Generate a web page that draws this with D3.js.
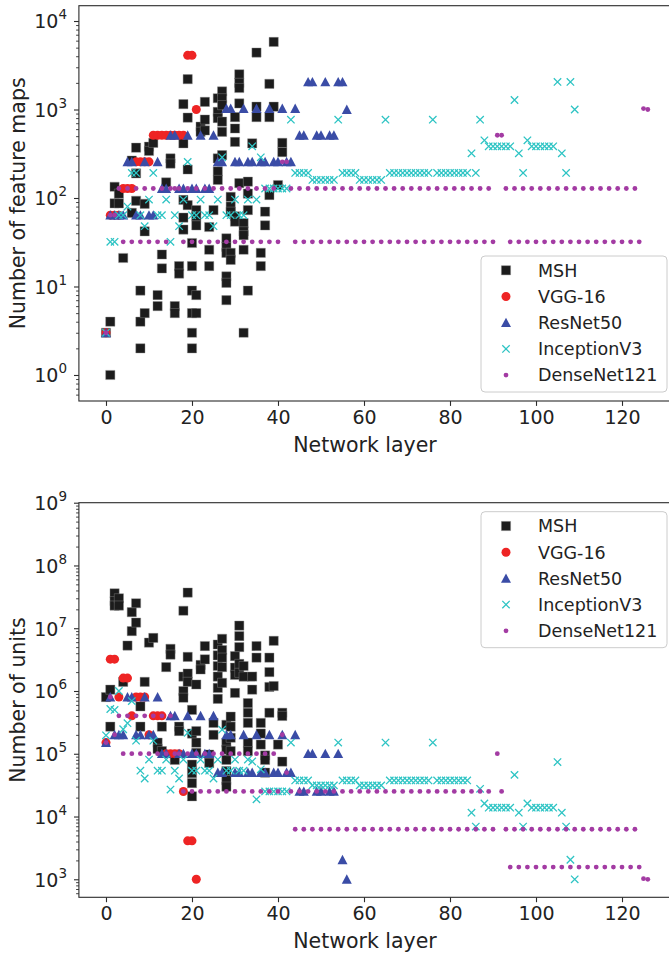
<!DOCTYPE html>
<html><head><meta charset="utf-8">
<script src="https://cdn.jsdelivr.net/npm/d3@7"></script>
<style>
body{margin:0;background:#fff}
svg{display:block}
text{font-family:"DejaVu Sans",sans-serif;fill:#222}
</style>
</head><body>
<svg id="chart" width="669" height="954"></svg>
<script>
// ---------------- DATA ----------------
const legendNames = ["MSH","VGG-16","ResNet50","InceptionV3","DenseNet121"];
const xTicks = [0,20,40,60,80,100,120];
const yTicksTop = [1,10,100,1000,10000];
const yTicksBottom = [1e3,1e4,1e5,1e6,1e7,1e8,1e9];

// MSH (layer index, number of feature maps)
const mshTopLayer = [0,1,1,2,2,3,3,4,6,6,7,7,7,8,8,8,9,9,9,10,10,11,12,12,13,13,14,15,15,16,16,17,17,
 18,18,18,18,18,19,19,19,19,20,20,20,20,20,20,21,21,21,21,21,22,22,23,23,23,24,24,24,25,
 26,26,26,26,26,26,27,27,27,27,27,27,28,28,28,28,28,28,29,29,29,29,29,30,30,30,30,30,
 31,31,31,31,31,32,32,32,32,32,33,33,33,33,34,35,35,35,36,36,37,37,38,38,38,39,39,40,41,41];
const mshTopMaps = [3,1,4,134,87,112,87,21,265,68,370,190,93,9,4,2,86,42,5,380,340,420,8,6,23,16,150,280,245,6,5,17,14,
 1150,415,95,60,44,2200,810,210,83,31,17,9,5,3,2,73,62,49,8,5,640,560,1220,770,580,47,26,17,73,
 1340,940,800,280,200,160,1600,1340,1120,730,560,305,35,28,24,13,11,7,103,80,70,24,20,820,610,430,62,54,
 2500,2000,1750,1170,147,52,42,38,26,3,153,112,73,9,415,4400,1075,820,24,17,70,49,1950,820,108,5800,1075,140,420,330];

// MSH (layer index, number of units)
const mshBotLayer = [0,1,1,2,2,2,3,3,4,5,6,6,7,7,8,8,9,10,11,12,12,13,13,14,15,15,16,17,17,
 18,18,18,18,19,19,19,19,20,20,20,20,20,20,21,21,21,21,22,22,23,23,24,24,25,25,
 26,26,26,26,26,26,27,27,27,27,27,28,28,28,28,28,28,28,29,29,29,29,30,30,30,30,
 31,31,31,31,31,32,32,33,33,33,33,33,34,34,35,35,36,36,36,37,37,37,38,38,38,38,39,39,40,41,41,41];
const mshBotUnits = [8.0e5,1.05e6,2.7e5,3.6e7,2.7e7,2.3e7,3.0e7,2.3e7,1.4e6,5.3e6,1.8e7,9.0e6,2.5e7,1.23e7,5.7e5,2.7e5,1.4e6,5.9e6,7.0e6,1.5e5,1.2e5,2.7e5,1.1e5,2.4e6,4.7e6,3.8e6,8.0e4,2.7e5,2.3e5,
 1.9e7,1.7e6,1.0e6,7.8e5,3.7e7,3.5e6,1.9e6,1.4e6,5.0e5,2.1e5,6.7e4,4.9e4,3.4e4,2.1e4,1.27e6,2.3e5,1.5e5,1.03e5,2.6e6,2.2e6,5.2e6,3.2e6,9.7e4,7.1e4,3.1e5,2.0e5,
 5.5e6,3.7e6,2.5e6,1.7e6,1.12e6,7.5e5,6.8e6,4.5e6,3.4e6,2.4e6,1.35e6,2.9e5,1.5e5,1.16e5,8.0e4,5.3e4,3.8e4,3.0e4,3.9e5,2.7e5,1.8e5,1.1e5,3.6e6,2.35e6,1.8e6,9.3e5,
 1.1e7,7.5e6,5.0e6,2.7e6,1.95e6,2.5e6,1.7e6,6.4e5,4.5e5,3.1e5,1.5e5,1.1e5,1.7e6,1.05e6,5.2e6,3.4e6,3.1e5,2.1e5,1.4e5,9.4e4,8.0e4,5.0e4,3.4e6,2.0e6,1.16e6,4.5e5,6.3e6,1.2e6,1.4e5,4.5e5,4.0e5,7.5e4];

// VGG-16, per layer
const vggMaps = [3,64,64,64,128,128,128,256,256,256,256,512,512,512,512,512,512,512,512,4096,4096,1000];
const vggUnits = [150528,3211264,3211264,802816,1605632,1605632,401408,802816,802816,802816,200704,401408,401408,401408,100352,100352,100352,100352,25088,4096,4096,1000];

// ResNet50, per layer
const resnetMaps = [3,64,64,
 64,64,256,256,64,64,256,64,64,256,
 128,128,512,512,128,128,512,128,128,512,128,128,512,
 256,256,1024,1024,256,256,1024,256,256,1024,256,256,1024,256,256,1024,256,256,1024,
 512,512,2048,2048,512,512,2048,512,512,2048,
 2048,1000];
const resnetUnits = [150528,802816,200704,
 200704,200704,802816,802816,200704,200704,802816,200704,200704,802816,
 100352,100352,401408,401408,100352,100352,401408,100352,100352,401408,100352,100352,401408,
 50176,50176,200704,200704,50176,50176,200704,50176,50176,200704,50176,50176,200704,50176,50176,200704,50176,50176,200704,
 25088,25088,100352,100352,25088,25088,100352,25088,25088,100352,
 2048,1000];

// InceptionV3, per layer
const inceptionMaps = [3,32,32,64,64,80,192,192,
 64,48,96,192,64,64,96,32,
 64,48,96,256,64,64,96,64,
 64,48,96,288,64,64,96,64,
 64,96,384,96,288,
 128,128,128,128,128,128,768,192,192,192,192,
 160,160,160,160,160,160,768,192,192,192,192,
 160,160,160,160,160,160,768,192,192,192,192,
 192,192,192,192,192,192,768,192,192,192,192,
 192,192,192,192,320,192,768,
 448,384,384,384,384,384,384,1280,320,192,
 448,384,384,384,384,384,384,2048,320,192,
 2048,1000];
const inceptionUnits = [196608,516128,500000,1000000,246016,307520,691200,161472,
 53824,40368,80736,161472,53824,53824,80736,26912,
 53824,40368,80736,215296,53824,53824,80736,53824,
 53824,40368,80736,242208,53824,53824,80736,53824,
 53824,80736,75264,18816,56448,
 25088,25088,25088,25088,25088,25088,150528,37632,37632,37632,37632,
 31360,31360,31360,31360,31360,31360,150528,37632,37632,37632,37632,
 31360,31360,31360,31360,31360,31360,150528,37632,37632,37632,37632,
 37632,37632,37632,37632,37632,37632,150528,37632,37632,37632,37632,
 37632,37632,37632,37632,11520,6912,27648,
 16128,13824,13824,13824,13824,13824,13824,46080,11520,6912,
 16128,13824,13824,13824,13824,13824,13824,73728,11520,6912,
 2048,1000];

// DenseNet121, per layer
const densenetMaps = [3,64,64,
 128,32,128,32,128,32,128,32,128,32,128,32,
 128,128,
 128,32,128,32,128,32,128,32,128,32,128,32,128,32,128,32,128,32,128,32,128,32,128,32,
 256,256,
 128,32,128,32,128,32,128,32,128,32,128,32,128,32,128,32,128,32,128,32,128,32,128,32,
 128,32,128,32,128,32,128,32,128,32,128,32,128,32,128,32,128,32,128,32,128,32,128,32,
 512,512,
 128,32,128,32,128,32,128,32,128,32,128,32,128,32,128,32,
 128,32,128,32,128,32,128,32,128,32,128,32,128,32,128,32,
 1024,1000];
const densenetUnits = [150528,802816,200704,
 401408,100352,401408,100352,401408,100352,401408,100352,401408,100352,401408,100352,
 401408,100352,
 100352,25088,100352,25088,100352,25088,100352,25088,100352,25088,100352,25088,
 100352,25088,100352,25088,100352,25088,100352,25088,100352,25088,100352,25088,
 200704,50176,
 25088,6272,25088,6272,25088,6272,25088,6272,25088,6272,25088,6272,25088,6272,25088,6272,
 25088,6272,25088,6272,25088,6272,25088,6272,25088,6272,25088,6272,25088,6272,25088,6272,
 25088,6272,25088,6272,25088,6272,25088,6272,25088,6272,25088,6272,25088,6272,25088,6272,
 100352,25088,
 6272,1568,6272,1568,6272,1568,6272,1568,6272,1568,6272,1568,6272,1568,6272,1568,
 6272,1568,6272,1568,6272,1568,6272,1568,6272,1568,6272,1568,6272,1568,6272,1568,
 1024,1000];

// ---------------- DRAWING ----------------
const svg = d3.select("#chart");
const idx = arr => arr.map((v,i)=>i);

const series = [
  {name:legendNames[0], shape:"square",   color:"#1c1c1c", top:{x:mshTopLayer,y:mshTopMaps}, bot:{x:mshBotLayer,y:mshBotUnits}},
  {name:legendNames[1], shape:"circle",   color:"#ee2424", top:{x:idx(vggMaps),y:vggMaps}, bot:{x:idx(vggUnits),y:vggUnits}},
  {name:legendNames[2], shape:"triangle", color:"#3a4ca6", top:{x:idx(resnetMaps),y:resnetMaps}, bot:{x:idx(resnetUnits),y:resnetUnits}},
  {name:legendNames[3], shape:"x",        color:"#2ec4c4", top:{x:idx(inceptionMaps),y:inceptionMaps}, bot:{x:idx(inceptionUnits),y:inceptionUnits}},
  {name:legendNames[4], shape:"dot",      color:"#a33ba3", top:{x:idx(densenetMaps),y:densenetMaps}, bot:{x:idx(densenetUnits),y:densenetUnits}}
];

const x = d3.scaleLinear().domain([-6.3,132.3]).range([78.9,674.9]);

function markerPath(shape){
  if(shape==="square") return "M-4.6,-4.6H4.6V4.6H-4.6Z";
  if(shape==="triangle") return "M0,-5L5,4.4L-5,4.4Z";
  if(shape==="x") return "M-3.7,-3.7L3.7,3.7M-3.7,3.7L3.7,-3.7";
  return null;
}
function drawMarker(sel, s){
  if(s.shape==="circle"){
    sel.append("circle").attr("r",4.5).attr("fill",s.color);
  } else if(s.shape==="dot"){
    sel.append("circle").attr("r",2.4).attr("fill",s.color);
  } else if(s.shape==="x"){
    sel.append("path").attr("d",markerPath("x")).attr("fill","none").attr("stroke",s.color).attr("stroke-width",1.3);
  } else if(s.shape==="square"){
    sel.append("path").attr("d",markerPath("square")).attr("fill",s.color).attr("stroke","#8a8a8a").attr("stroke-width",0.6).attr("stroke-opacity",0.7);
  } else {
    sel.append("path").attr("d",markerPath("triangle")).attr("fill",s.color);
  }
}

const panels = [
  {key:"top", top:5.7, bottom:401, dom:[Math.pow(10,-0.294),Math.pow(10,4.173)], majors:yTicksTop, ylabel:"Number of feature maps", legendTop:256},
  {key:"bot", top:502.7, bottom:897.3, dom:[Math.pow(10,2.713),1e9], majors:yTicksBottom, ylabel:"Number of units", legendTop:511.7}
];

panels.forEach((p,pi)=>{
  const y = d3.scaleLog().domain(p.dom).range([p.bottom,p.top]);
  const g = svg.append("g");
  const clipId = "clip"+pi;
  g.append("clipPath").attr("id",clipId).append("rect")
    .attr("x",x.range()[0]).attr("y",p.top).attr("width",x.range()[1]-x.range()[0]).attr("height",p.bottom-p.top);

  // points
  const pts = g.append("g").attr("clip-path",`url(#${clipId})`);
  series.forEach(s=>{
    const d = s[p.key];
    const data = d.x.map((xv,i)=>[xv,d.y[i]]);
    const gs = pts.append("g");
    data.forEach(([xv,yv])=>{
      const m = gs.append("g").attr("transform",`translate(${x(xv)},${y(yv)})`);
      drawMarker(m,s);
    });
  });

  // x axis
  const xa = g.append("g").attr("transform",`translate(0,${p.bottom})`)
    .call(d3.axisBottom(x).tickValues(xTicks).tickSize(4.9).tickPadding(4.5).tickFormat(d3.format("d")));
  xa.select(".domain").remove();
  xa.selectAll("line").attr("stroke","#2b2b2b").attr("stroke-width",1.1);
  xa.selectAll("text").attr("font-size",19).attr("font-family","DejaVu Sans").attr("fill","#222");

  // y minor ticks
  const minors = [];
  for(let k=Math.floor(Math.log10(p.dom[0]));k<=Math.ceil(Math.log10(p.dom[1]));k++){
    for(let m=2;m<=9;m++){const v=m*Math.pow(10,k); if(v>=p.dom[0]&&v<=p.dom[1]) minors.push(v);}
  }
  const ym = g.append("g").attr("transform",`translate(${x.range()[0]},0)`)
    .call(d3.axisLeft(y).tickValues(minors).tickSize(2.8).tickFormat(""));
  ym.select(".domain").remove();
  ym.selectAll("line").attr("stroke","#2b2b2b").attr("stroke-width",0.9);

  // y major ticks
  const ya = g.append("g").attr("transform",`translate(${x.range()[0]},0)`)
    .call(d3.axisLeft(y).tickValues(p.majors).tickSize(4.9).tickPadding(7).tickFormat(""));
  ya.select(".domain").remove();
  ya.selectAll("line").attr("stroke","#2b2b2b").attr("stroke-width",1.1);
  ya.selectAll(".tick text").each(function(d){
    const t = d3.select(this).attr("font-size",19).attr("dy","0.36em").attr("fill","#222").attr("font-family","DejaVu Sans");
    t.text("");
    t.append("tspan").text("10");
    t.append("tspan").attr("font-size",13.5).attr("dy",-9).text(String(Math.round(Math.log10(d))));
  });

  // spines
  g.append("rect").attr("x",x.range()[0]).attr("y",p.top).attr("width",x.range()[1]-x.range()[0]).attr("height",p.bottom-p.top)
    .attr("fill","none").attr("stroke","#2b2b2b").attr("stroke-width",1.1);

  // labels
  g.append("text").attr("x",365).attr("y",p.bottom+51)
    .attr("text-anchor","middle").attr("font-size",20.5).text("Network layer");
  g.append("text").attr("transform",`translate(25,${(p.top+p.bottom)/2}) rotate(-90)`)
    .attr("text-anchor","middle").attr("font-size",20.5).text(p.ylabel);

  // legend
  const lg = g.append("g");
  lg.append("rect").attr("x",481).attr("y",p.legendTop).attr("width",186).attr("height",136).attr("rx",4)
    .attr("fill","#fff").attr("fill-opacity",0.8).attr("stroke","#cccccc").attr("stroke-width",1);
  series.forEach((s,i)=>{
    const cy = p.legendTop+14.3+i*26.2;
    const m = lg.append("g").attr("transform",`translate(506,${cy})`);
    drawMarker(m,s);
    lg.append("text").attr("x",538).attr("y",cy+6.3).attr("font-size",17.5).text(s.name);
  });
});
</script>
</body></html>
